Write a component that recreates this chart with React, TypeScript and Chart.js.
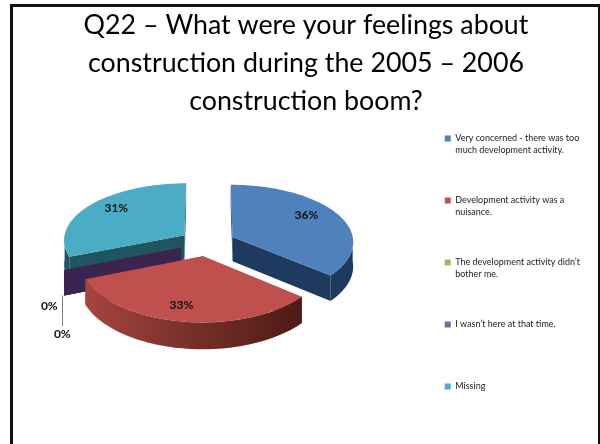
import React, { useEffect, useRef } from "react";
import { Chart, registerables } from "chart.js";

Chart.register(...registerables);

const titleLines = [
  "Q22 – What were your feelings about",
  "construction during the 2005 – 2006",
  "construction boom?",
];
const categories = [
  ["Very concerned - there was too", "much development activity."],
  ["Development activity was a", "nuisance."],
  ["The development activity didn’t", "bother me."],
  ["I wasn’t here at that time.", ""],
  ["Missing", ""],
];
const percentValues = [36, 33, 0, 0, 31];
const topColors = ["#4f81bd", "#c0504d", "#9bbb59", "#8064a2", "#4bacc6"];
const wallColors = ["#1f3a5f", "#7a302d", "#4f6228", "#3b2450", "#1f5560"];

const FONT = "Lato, 'Open Sans', sans-serif";

// Oblique view of the flat pie
const SQUASH = 0.478;
const PERSPECTIVE = 0.00073;
const WIDEN = 0.0006;
const CENTRE_X = 207.4;
const CENTRE_Y = 242.7;
const projX = (u: number, v: number) => u * (1 + WIDEN * v);
const projY = (v: number) => (SQUASH * v) / (1 - PERSPECTIVE * v);
const depth = (v: number) => 24.5 + v * 0.016;
const PAINT_ORDER = [4, 2, 3, 0, 1];
const LABEL_RADIUS = 80;
const labelNudge: Record<number, [number, number]> = {
  0: [4, -6],
  1: [-8, 7],
  4: [-5, -7],
};
const zeroNudge: Record<number, [number, number]> = {
  2: [-2, 39],
  3: [-15, 11],
};

const pie3d = {
  id: "pie3d",
  beforeDatasetDraw() {
    return false;
  },
  afterDatasetsDraw(chart: any) {
    const { ctx } = chart;
    const arcs = chart.getDatasetMeta(0).data;
    const pt = (u: number, v: number, h = 0): [number, number] => [
      CENTRE_X + projX(u, v),
      CENTRE_Y + projY(v) + (h ? depth(v) : 0),
    ];
    const poly = (points: [number, number][], fill: any) => {
      ctx.beginPath();
      points.forEach((p, i) => (i ? ctx.lineTo(p[0], p[1]) : ctx.moveTo(p[0], p[1])));
      ctx.closePath();
      ctx.fillStyle = fill;
      ctx.fill();
    };
    ctx.save();
    const geo = (i: number) => {
      const el = arcs[i];
      const { startAngle: a0, endAngle: a1, outerRadius: R } = el;
      const mid = (a0 + a1) / 2;
      const d = el.options.offset;
      return { a0, a1, R, mid, au: Math.cos(mid) * d, av: Math.sin(mid) * d };
    };
    for (const i of PAINT_ORDER) {
      const { a0, a1, R, au, av } = geo(i);
      const rim = (a: number): [number, number] => [au + Math.cos(a) * R, av + Math.sin(a) * R];
      for (const a of [a0, a1]) {
        const [u, v] = rim(a);
        poly([pt(au, av), pt(u, v), pt(u, v, 1), pt(au, av, 1)], wallColors[i]);
      }
      const s = Math.max(a0, 0);
      const e = Math.min(a1, Math.PI);
      if (e > s) {
        const upper: [number, number][] = [];
        const lower: [number, number][] = [];
        for (let k = 0; k <= 60; k++) {
          const [u, v] = rim(s + ((e - s) * k) / 60);
          upper.push(pt(u, v));
          lower.unshift(pt(u, v, 1));
        }
        let fill: any = wallColors[i];
        if (i === 1) {
          const g = ctx.createLinearGradient(upper[upper.length - 1][0], 0, upper[0][0], 0);
          g.addColorStop(0, "#a8443f");
          g.addColorStop(0.5, "#763029");
          g.addColorStop(1, "#4e1a17");
          fill = g;
        }
        poly([...upper, ...lower], fill);
      }
      if (a1 > a0) {
        const top: [number, number][] = [pt(au, av)];
        for (let k = 0; k <= 80; k++) {
          const [u, v] = rim(a0 + ((a1 - a0) * k) / 80);
          top.push(pt(u, v));
        }
        poly(top, topColors[i]);
      }
    }
    // Value labels
    ctx.font = `bold 12px ${FONT}`;
    ctx.fillStyle = "#111111";
    ctx.textAlign = "center";
    ctx.textBaseline = "middle";
    percentValues.forEach((val, i) => {
      const { a0, R, mid, au, av } = geo(i);
      const text = `${val}%`;
      if (val > 0) {
        const [x, y] = pt(au + Math.cos(mid) * LABEL_RADIUS, av + Math.sin(mid) * LABEL_RADIUS);
        const [dx, dy] = labelNudge[i];
        ctx.fillText(text, x + dx, y + dy);
      } else {
        const u = au + Math.cos(a0) * R;
        const v = av + Math.sin(a0) * R;
        const [x, y] = pt(u, v, 1);
        const [dx, dy] = zeroNudge[i];
        ctx.fillText(text, x + dx, y + dy);
        if (i === 2) {
          ctx.strokeStyle = "#808080";
          ctx.lineWidth = 1;
          ctx.beginPath();
          ctx.moveTo(Math.round(x) - 1.5, y);
          ctx.lineTo(Math.round(x) - 1.5, y + 31);
          ctx.stroke();
        }
      }
    });
    ctx.restore();
  },
};

export default function App() {
  const ref = useRef<HTMLCanvasElement>(null);
  useEffect(() => {
    const chart = new Chart(ref.current as HTMLCanvasElement, {
      type: "pie",
      data: {
        labels: categories as any,
        datasets: [
          {
            data: percentValues,
            backgroundColor: topColors,
            borderWidth: 0,
            offset: 28,
          } as any,
        ],
      },
      options: {
        responsive: false,
        animation: false,
        radius: 121,
        layout: { padding: { top: 6, bottom: 0, left: 22, right: 22 } },
        plugins: {
          title: {
            display: true,
            text: titleLines,
            color: "#000000",
            font: { family: FONT, size: 26.8, weight: "normal", lineHeight: 38 / 26.8 },
            padding: { top: 0, bottom: 10 },
          },
          legend: {
            position: "right",
            align: "end",
            labels: {
              boxWidth: 6,
              boxHeight: 6,
              padding: 38,
              color: "#222222",
              font: { family: FONT, size: 9, lineHeight: 1.333 },
            },
          },
          tooltip: { enabled: false },
        },
      } as any,
      plugins: [pie3d],
    });
    return () => chart.destroy();
  }, []);
  return (
    <div style={{ position: "fixed", left: 0, top: 0, width: 600, height: 444, overflow: "hidden", background: "#fff" }}>
      <canvas ref={ref} width={612} height={444} style={{ display: "block" }} />
      <div
        style={{
          position: "absolute",
          left: 10,
          top: 4,
          width: 585,
          height: 460,
          borderLeft: "3px solid #111",
          borderTop: "3px solid #111",
          borderRight: "2px solid #111",
          boxSizing: "content-box",
        }}
      />
    </div>
  );
}
